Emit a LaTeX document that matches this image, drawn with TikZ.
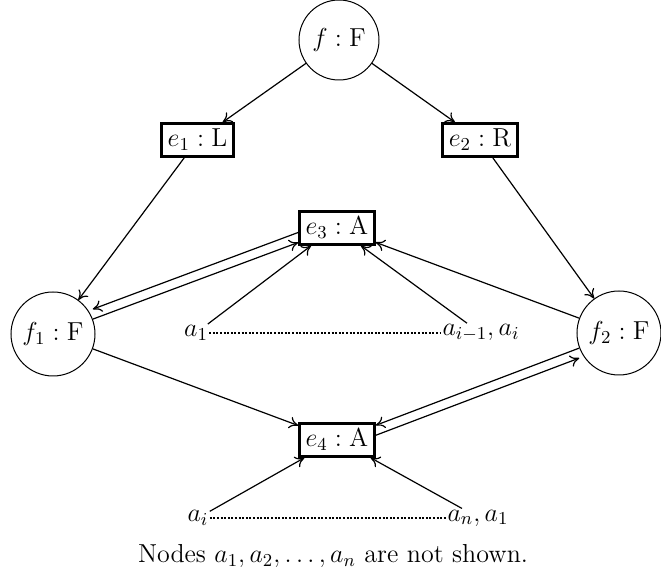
\RequirePackage{fix-cm}
\documentclass[tikz,border=0pt]{standalone}
\usetikzlibrary{arrows.meta}
\begin{document}
\begin{tikzpicture}[x=0.5pt,y=-0.5pt,
  lbl/.style={font=\fontsize{13}{16}\selectfont},
  obj/.style={lbl,circle,draw,line width=0.5pt,inner sep=0pt},
  evt/.style={lbl,rectangle,draw,line width=1.3pt,inner xsep=3pt,inner ysep=0pt,minimum height=16.5pt},
  term/.style={lbl,inner sep=0.5pt},
  conn/.style={line width=0.6pt,-{To[length=4.5pt,width=6pt]}},
  dots/.style={line width=1.3pt,dash pattern=on 1pt off 0.8pt}]
\useasboundingbox (0,0) rectangle (661,577);

% objects
\node[obj,minimum size=40pt] (f)  at (339,40)  {$f:\mathrm{F}$};
\node[obj,minimum size=42pt] (f1) at (53,334)  {$f_1:\mathrm{F}$};
\node[obj,minimum size=42pt] (f2) at (619,333) {$f_2:\mathrm{F}$};

% events
\node[evt] (e1) at (197.5,140) {$e_1:\mathrm{L}$};
\node[evt] (e2) at (480,140)   {$e_2:\mathrm{R}$};
\node[evt] (e3) at (337,228)   {$e_3:\mathrm{A}$};
\node[evt] (e4) at (337,440)   {$e_4:\mathrm{A}$};

% argument nodes
\node[term] (a1)  at (196,333) {$a_1$};
\node[term] (aim) at (481,333) {$a_{i-1}, a_i$};
\node[term] (ai)  at (198,518) {$a_i$};
\node[term] (an)  at (478,518) {$a_n, a_1$};

% connectors
\draw[conn] (f) -- (e1);
\draw[conn] (f) -- (e2);
\draw[conn] (e1) -- (f1);
\draw[conn] (e2) -- (f2);
\draw[conn] (f1) -- (e3);
\draw[conn,transform canvas={yshift=5pt}] (e3) -- (f1);
\draw[conn] (f2) -- (e3);
\draw[conn] (f1) -- (e4);
\draw[conn] (f2) -- (e4);
\draw[conn,transform canvas={yshift=-5pt}] (e4) -- (f2);

\draw[conn] (a1) -- ([xshift=-13pt]e3.south);
\draw[conn] ([xshift=-7pt]aim.north) -- ([xshift=12pt]e3.south);
\draw[conn] (ai) -- ([xshift=3pt]e4.south west);
\draw[conn] ([xshift=-8pt]an.north) -- ([xshift=-2.5pt]e4.south east);

% ranges of arguments
\draw[dots] (a1.east) -- (aim.west);
\draw[dots] (ai.east) -- (an.west);

\node[lbl] (cap) at (333,556) {Nodes $a_1, a_2, \ldots, a_n$ are not shown.};
\end{tikzpicture}
\end{document}
